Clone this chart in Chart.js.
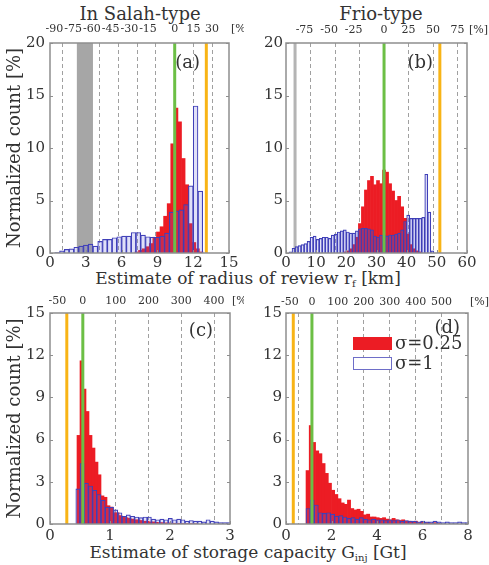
<!DOCTYPE html>
<html>
<head>
<meta charset="utf-8">
<script src="https://cdn.jsdelivr.net/npm/chart.js@4.4.1/dist/chart.umd.min.js"></script>
<style>
  body { margin: 0; background: #fff; }
  #wrap { position: relative; width: 489px; height: 565px; overflow: hidden; font-family: "DejaVu Serif", serif; color: #333; }
  #wrap canvas { position: absolute; }
  .lbl { position: absolute; white-space: nowrap; transform: translate(-50%, -50%); font-size: 17px; line-height: 1; }
  .ttl { font-size: 18px; }
  .lbl sub { font-size: 10px; vertical-align: -3px; }
</style>
</head>
<body>
<div id="wrap">
  <div class="lbl ttl" style="left:140px; top:14px">In Salah-type</div>
  <div class="lbl ttl" style="left:381px; top:14px">Frio-type</div>
  <div class="lbl" style="left:248px; top:279px">Estimate of radius of review r<sub>f</sub> [km]</div>
  <div class="lbl" style="left:248px; top:553px">Estimate of storage capacity G<sub>inj</sub> [Gt]</div>
  <canvas id="pa" width="244" height="270" style="left:0; top:0"></canvas>
  <canvas id="pb" width="245" height="270" style="left:244px; top:0"></canvas>
  <canvas id="pc" width="244" height="256" style="left:0; top:286px"></canvas>
  <canvas id="pd" width="245" height="256" style="left:244px; top:286px"></canvas>
</div>
<script>
// histogram bins: first bin edge, bin width, normalized counts [%]
// (a) In Salah-type, radius of review [km]
const aRedStart = 7.12, aRedWidth = 0.3;
const aRed = [0.1, 0.25, 0.4, 0.6, 0.9, 1.5, 2.0, 2.5, 3.5, 4.7, 10.4, 13.8, 12.5, 9.0, 6.5, 2.8, 1.0, 0.4, 0.1];
const aBlueStart = 0.4, aBlueWidth = 0.4;
const aBlue = [0.05, 0.2, 0.35, 0.4, 0.55, 0.65, 0.75, 0.85, 0.65, 1.1,
               1.3, 1.3, 1.45, 1.55, 1.6, 1.6, 1.95, 1.95, 1.7, 1.55,
               1.5, 1.5, 1.6, 1.9, 3.9, 4.0, 4.1, 4.6, 6.4, 14.0, 5.9];
const aPct = [-90, -75, -60, -45, -30, -15, 0, 15, 30];
const aTrue = 10.45, aOrange = 13.1, aGray = [2.25, 3.6];

// (b) Frio-type, radius of review [km]
const bRedStart = 19, bRedWidth = 1;
const bRed = [0.1, 0.2, 0.4, 0.8, 1.5, 2.8, 4.4, 6.0, 6.9, 7.3, 6.5, 6.9, 6.6,
              7.9, 7.7, 6.6, 5.9, 5.0, 5.4, 4.4, 3.3, 1.8, 0.8, 0.4, 0.2, 0.1];
const bBlueStart = 1, bBlueWidth = 1;
const bBlue = [0.1, 0.45, 0.6, 0.7, 0.8, 0.9, 1.1, 1.5, 1.6, 1.3,
               1.4, 1.5, 1.5, 1.4, 1.7, 1.8, 2.0, 2.1, 2.2, 2.0,
               1.9, 1.9, 2.1, 2.3, 2.35, 2.35, 2.3, 2.2, 1.6, 1.5,
               1.7, 1.7, 1.6, 1.7, 1.7, 1.8, 1.9, 2.2, 3.0, 3.6,
               3.3, 3.3, 3.3, 3.3, 3.4, 7.5, 3.9, 0.2];
const bPct = [-75, -50, -25, 0, 25, 50, 75];
const bTrue = 32.5, bOrange = 51, bGray = [2.5, 3.5];

// (c) In Salah-type, storage capacity [Gt]
const cRedStart = 0.45, cRedWidth = 0.05;
const cRed = [6.3, 11.6, 9.6, 8.0, 6.3, 5.4, 4.4, 3.5, 2.0, 1.9,
              1.3, 1.2, 0.8, 0.8, 0.6, 0.5, 0.45, 0.4, 0.35, 0.3,
              0.3, 0.25, 0.2, 0.2, 0.15, 0.15, 0.12, 0.1, 0.1, 0.08,
              0.08, 0.06, 0.05, 0.05, 0.04, 0.03, 0.03, 0.02, 0.02, 0.02];
const cBlueStart = 0.43, cBlueWidth = 0.07;
const cBlue = [2.5, 4.3, 2.9, 2.7, 2.4, 2.1, 1.7, 1.2, 1.2, 1.0,
               0.8, 0.55, 0.65, 0.55, 0.5, 0.45, 0.5, 0.5, 0.35, 0.3,
               0.35, 0.3, 0.4, 0.3, 0.35, 0.3, 0.2, 0.25, 0.2, 0.2,
               0.15, 0.3, 0.2, 0.15, 0.1, 0.1, 0.1];
const cPct = [-50, 0, 100, 200, 300, 400];
const cTrue = 0.547, cOrange = 0.28;

// (d) Frio-type, storage capacity [Gt]
const dRedStart = 0.88, dRedWidth = 0.14;
const dRed = [3.8, 7.0, 5.8, 5.2, 5.0, 4.3, 3.6, 2.9, 2.4, 2.1,
              1.8, 1.5, 1.4, 1.7, 1.1, 1.0, 1.05, 0.9, 0.65, 0.7,
              0.5, 0.5, 0.45, 0.4, 0.45, 0.35, 0.3, 0.4, 0.3, 0.25,
              0.3, 0.2, 0.2, 0.15, 0.2, 0.1, 0.15, 0.1, 0.1, 0.05, 0.1, 0.05];
const dBlueStart = 0.88, dBlueWidth = 0.18;
const dBlue = [1.1, 1.7, 1.35, 0.8, 0.75, 0.8, 0.7, 0.55, 0.6, 0.5,
               0.4, 0.45, 0.35, 0.45, 0.35, 0.3, 0.35, 0.3, 0.3, 0.25,
               0.3, 0.25, 0.3, 0.2, 0.25, 0.2, 0.2, 0.15, 0.2, 0.15,
               0.15, 0.2, 0.15, 0.1, 0.15, 0.1, 0.1, 0.15, 0.1, 0.1];
const dPct = [-50, 0, 100, 200, 300, 400, 500];
const dTrue = 1.14, dOrange = 0.32;

const FONT = '"DejaVu Serif", serif';
const INK = '#333';
const RED = 'rgb(236,28,36)';
const BLUE_FILL = 'rgba(100,100,220,0.2)';
const BLUE_EDGE = 'rgb(60,60,180)';

Chart.defaults.font.family = FONT;
Chart.defaults.color = INK;

// draws the gray band, green/orange lines, frame with ticks, panel letter, top % labels and legend
function decor(p) {
  return {
    id: 'decor',
    beforeDatasetsDraw(chart) {
      if (!p.gray) return;
      const { ctx, chartArea: a } = chart;
      const x = chart.scales.x;
      const x0 = x.getPixelForValue(p.gray[0]), x1 = x.getPixelForValue(p.gray[1]);
      ctx.save();
      ctx.fillStyle = p.grayColor;
      ctx.fillRect(x0, a.top, x1 - x0, a.bottom - a.top);
      ctx.restore();
    },
    afterDatasetsDraw(chart) {
      const { ctx, chartArea: a } = chart;
      const x = chart.scales.x;
      const vline = (v, color) => {
        const px = x.getPixelForValue(v);
        ctx.strokeStyle = color;
        ctx.lineWidth = 3;
        ctx.beginPath();
        ctx.moveTo(px, a.top);
        ctx.lineTo(px, a.bottom);
        ctx.stroke();
      };
      ctx.save();
      vline(p.orange, '#f8b416');
      vline(p.truth, '#6cbf45');
      ctx.restore();
    },
    afterDraw(chart) {
      const { ctx, chartArea: a } = chart;
      const { x, y, top } = chart.scales;
      ctx.save();
      ctx.strokeStyle = '#8e8e8e';
      ctx.lineWidth = 1.5;
      ctx.strokeRect(a.left, a.top, a.right - a.left, a.bottom - a.top);

      // small inward tick marks
      ctx.lineWidth = 1;
      ctx.beginPath();
      y.ticks.forEach(t => {
        const py = Math.round(y.getPixelForValue(t.value)) + 0.5;
        ctx.moveTo(a.left, py); ctx.lineTo(a.left + 3, py);
        ctx.moveTo(a.right, py); ctx.lineTo(a.right - 3, py);
      });
      x.ticks.forEach(t => {
        const px = Math.round(x.getPixelForValue(t.value)) + 0.5;
        ctx.moveTo(px, a.bottom); ctx.lineTo(px, a.bottom - 3);
      });
      ctx.stroke();

      ctx.fillStyle = INK;
      ctx.font = '18px ' + FONT;
      ctx.textAlign = 'right';
      ctx.textBaseline = 'middle';
      ctx.fillText(p.letter, a.right - p.letterRight, a.top + p.letterDy);

      // top axis: deviation from the true value [%]
      ctx.font = '11px ' + FONT;
      ctx.textAlign = 'center';
      const ty = a.top - p.topDy;
      top.ticks.forEach((t, i) => {
        const v = p.pct[i];
        const px = top.getPixelForValue(t.value) + (v < 0 ? p.negShift : 0);
        ctx.fillText(String(v), px, ty);
      });
      ctx.textAlign = 'left';
      ctx.fillText('[%]', a.right + 2, ty);

      if (p.legend) {
        const ds = chart.data.datasets;
        const lx = a.left + 67, bw = 39;
        ctx.fillStyle = RED;
        ctx.fillRect(lx, a.top + 24, bw, 13);
        ctx.fillStyle = '#fff';
        ctx.fillRect(lx, a.top + 44, bw, 13);
        ctx.strokeStyle = 'rgb(110,110,200)';
        ctx.lineWidth = 1;
        ctx.strokeRect(lx + 0.5, a.top + 44.5, bw - 1, 12);
        ctx.fillStyle = INK;
        ctx.font = '18px ' + FONT;
        ctx.fillText(ds[0].label, lx + bw + 3, a.top + 31);
        ctx.fillText(ds[1].label, lx + bw + 3, a.top + 51);
      }
      ctx.restore();
    }
  };
}

function makePanel(id, p) {
  const redPts = p.red.map((v, i) => ({ x: p.redStart + (i + 0.5) * p.redWidth, y: v }));
  const bluePts = p.blue.map((v, i) => ({ x: p.blueStart + (i + 0.5) * p.blueWidth, y: v }));
  return new Chart(document.getElementById(id), {
    type: 'bar',
    data: {
      datasets: [
        { label: 'σ=0.25', data: redPts, xAxisID: 'x', backgroundColor: RED, borderWidth: 0, order: 2 },
        { label: 'σ=1', data: bluePts, xAxisID: 'xb', backgroundColor: BLUE_FILL,
          borderColor: BLUE_EDGE, borderWidth: 0.5, order: 1 }
      ]
    },
    options: {
      responsive: false,
      animation: false,
      datasets: { bar: { grouped: false, barPercentage: 1, categoryPercentage: 1 } },
      layout: { padding: { left: 0, right: p.padRight, top: 0, bottom: 0 } },
      plugins: { legend: { display: false }, tooltip: { enabled: false } },
      scales: {
        x: {
          type: 'linear', position: 'bottom', min: 0, max: p.xMax, offset: false,
          ticks: { stepSize: p.xStep, font: { size: 15 }, padding: p.bottomPad, maxRotation: 0 },
          grid: { display: false, offset: false, drawTicks: false },
          border: { display: false },
          afterFit: s => { s.height = p.bottomH; }
        },
        xb: { type: 'linear', axis: 'x', display: false, min: 0, max: p.xMax, offset: false, grid: { offset: false } },
        top: {
          type: 'linear', axis: 'x', position: 'top', min: 0, max: p.xMax, offset: false,
          afterBuildTicks: s => { s.ticks = p.pct.map(v => ({ value: p.truth * (1 + v / 100) })); },
          ticks: { display: false, autoSkip: false, maxRotation: 0 },
          grid: { color: '#a0a0a0', lineWidth: 1, drawTicks: false, offset: false },
          border: { display: false, dash: [4, 3] },
          afterFit: s => { s.height = p.topH; }
        },
        y: {
          min: 0, max: p.yMax,
          ticks: { stepSize: p.yStep, font: { size: 15 }, padding: p.leftPad },
          grid: { display: false, drawTicks: false },
          border: { display: false },
          title: { display: p.yTitle, text: 'Normalized count [%]', font: { size: 18 }, padding: { top: 5, bottom: 0 } },
          afterFit: s => { s.width = p.leftW; }
        }
      }
    },
    plugins: [decor(p)]
  });
}

makePanel('pa', {
  red: aRed, redStart: aRedStart, redWidth: aRedWidth,
  blue: aBlue, blueStart: aBlueStart, blueWidth: aBlueWidth,
  xMax: 15, xStep: 3, yMax: 20, yStep: 5, pct: aPct, truth: aTrue, orange: aOrange,
  gray: aGray, grayColor: '#a6a6a6', letter: '(a)', letterRight: 29, letterDy: 20,
  padRight: 15, leftW: 50, leftPad: 5, topH: 43, topDy: 14, negShift: -8, bottomH: 17, bottomPad: 1, yTitle: true
});
makePanel('pb', {
  red: bRed, redStart: bRedStart, redWidth: bRedWidth,
  blue: bBlue, blueStart: bBlueStart, blueWidth: bBlueWidth,
  xMax: 60, xStep: 10, yMax: 20, yStep: 5, pct: bPct, truth: bTrue, orange: bOrange,
  gray: bGray, grayColor: '#b4b4b4', letter: '(b)', letterRight: 34, letterDy: 20,
  padRight: 22, leftW: 42, leftPad: 3, topH: 43, topDy: 13, negShift: -6, bottomH: 17, bottomPad: 1, yTitle: false
});
makePanel('pc', {
  red: cRed, redStart: cRedStart, redWidth: cRedWidth,
  blue: cBlue, blueStart: cBlueStart, blueWidth: cBlueWidth,
  xMax: 3, xStep: 1, yMax: 15, yStep: 3, pct: cPct, truth: cTrue, orange: cOrange,
  gray: null, letter: '(c)', letterRight: 17, letterDy: 18,
  padRight: 14, leftW: 50, leftPad: 5, topH: 27, topDy: 12, negShift: -9, bottomH: 18, bottomPad: 3, yTitle: true
});
makePanel('pd', {
  red: dRed, redStart: dRedStart, redWidth: dRedWidth,
  blue: dBlue, blueStart: dBlueStart, blueWidth: dBlueWidth,
  xMax: 8, xStep: 2, yMax: 15, yStep: 3, pct: dPct, truth: dTrue, orange: dOrange,
  gray: null, letter: '(d)', letterRight: 8, letterDy: 15, legend: true,
  padRight: 21, leftW: 42, leftPad: 4, topH: 27, topDy: 11, negShift: -9, bottomH: 18, bottomPad: 3, yTitle: false
});
</script>
</body>
</html>
